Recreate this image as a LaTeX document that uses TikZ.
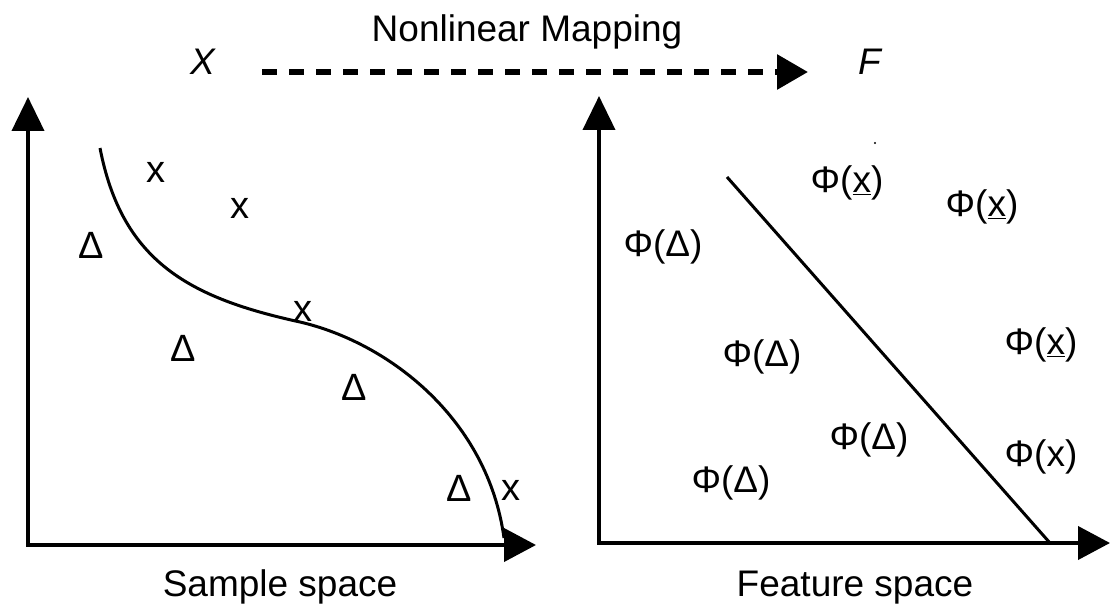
\documentclass[tikz,border=0pt]{standalone}
\usepackage{fontspec}
\setmainfont{Liberation Sans}
\usetikzlibrary{arrows.meta}
\begin{document}
\begin{tikzpicture}[x=1pt,y=-1pt,
  axis/.style={line width=4pt,{Triangle[length=34pt,width=32pt]}-{Triangle[length=32pt,width=33pt]}},
  curvestyle/.style={line width=3pt},
  lbl/.style={font=\fontsize{38}{42}\selectfont, inner sep=0pt},
  plbl/.style={font=\fontsize{37}{42}\selectfont, inner sep=0pt},
  captxt/.style={font=\fontsize{37}{42}\selectfont, inner sep=0pt, anchor=base},
  ]
\useasboundingbox (0,0) rectangle (1113,607);
% title
\node[captxt] (title) at (527,42) {Nonlinear Mapping};
\node[lbl,font=\fontsize{37}{42}\selectfont\itshape] (X) at (203,62) {X};
\node[lbl,font=\fontsize{37}{42}\selectfont\itshape] (F) at (870,62) {F};
\coordinate (ds) at (262,72);
\coordinate (de) at (808,72);
\draw[line width=6pt, dash pattern=on 15pt off 12pt, -{Triangle[length=31pt,width=34pt]}] (ds) -- (de);
% left axes
\coordinate (lo) at (28,545);
\coordinate (ly) at (28,97);
\coordinate (lx) at (536,545);
\draw[axis] (ly) -- (lo) -- (lx);
\draw[curvestyle] (100,148) .. controls (122,262) and (190,298) .. (300,322)
  .. controls (390,343) and (488,420) .. (504,538);
\node[lbl] (a1) at (156,172) {x};
\node[lbl] (a2) at (240,208) {x};
\node[lbl] (a3) at (303,311) {x};
\node[lbl] (a4) at (511,490) {x};
\node[lbl] (d1) at (91,245) {Δ};
\node[lbl] (d2) at (183,348) {Δ};
\node[lbl] (d3) at (354,387) {Δ};
\node[lbl] (d4) at (459,488) {Δ};
\node[captxt] (s) at (280,596) {Sample space};
% right axes
\coordinate (ro) at (599,543);
\coordinate (ry) at (599,96);
\coordinate (rx) at (1110,543);
\draw[axis] (ry) -- (ro) -- (rx);
\coordinate (l1) at (727,177);
\coordinate (l2) at (1050,543);
\draw[curvestyle] (l1) -- (l2);
\fill (875,143) circle (1.2pt);
\node[plbl] (p1) at (847,183) {Φ(\underline{x})};
\node[plbl] (p2) at (982,207) {Φ(\underline{x})};
\node[plbl] (p3) at (663,247) {Φ(Δ)};
\node[plbl] (p4) at (762,357) {Φ(Δ)};
\node[plbl] (p5) at (1041,345) {Φ(\underline{x})};
\node[plbl] (p6) at (869,440) {Φ(Δ)};
\node[plbl] (p7) at (1041,457) {Φ(x)};
\node[plbl] (p8) at (731,483) {Φ(Δ)};
\node[captxt] (f) at (855,596) {Feature space};
\end{tikzpicture}
\end{document}
